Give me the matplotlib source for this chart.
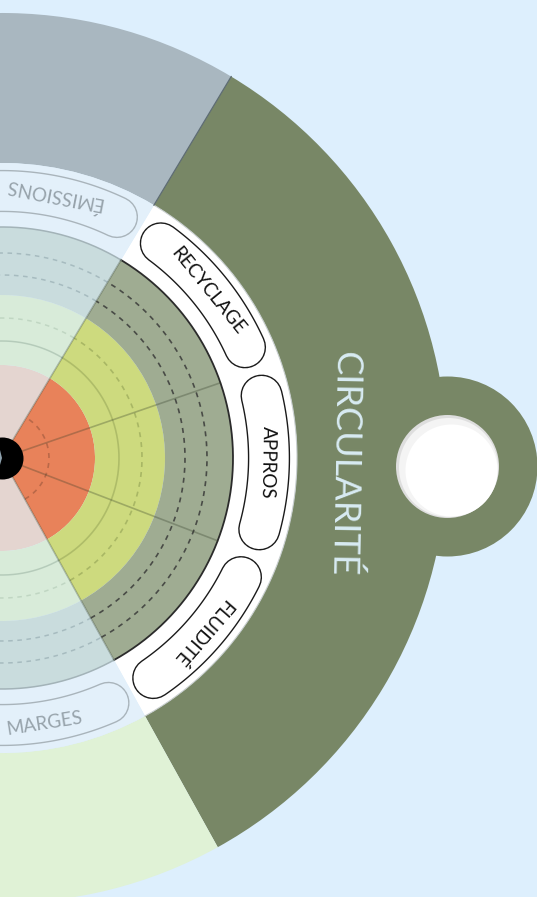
import numpy as np
import matplotlib.pyplot as plt
from matplotlib.transforms import offset_copy

# outer wedges (centre angle in degrees), 3 x 120 deg
sector_theta = [0, 120, 240]
sector_title = 'CIRCULARITÉ'
outer_colors = ['#788766', '#a9b7c0', '#e0f2d6']
ring_colors = ['#ffffff', '#e3f0fa', '#e3f0fa']

# score bands (radius levels) and colours: active sector / other sectors
band_edges = [0, 93, 163, 231]
band_active = ['#e8825a', '#cdda7e', '#9fac92']
band_other = ['#e4d5d0', '#d8ebd9', '#c9dcdd']

# sub-categories shown in the label ring
labels = ['RECYCLAGE', 'APPROS', 'FLUIDITÉ', 'ÉMISSIONS', 'MARGES']
label_theta = [40, 0, -40, 80, -80]
label_active = [True, True, True, False, False]

W, H = 537, 897
cx, cy = 2, 458
RM = 540

fig = plt.figure(figsize=(W / 100, H / 100), dpi=100, facecolor='#ddeffd')
ax = fig.add_axes([(cx - RM) / W, (H - cy - RM) / H, 2 * RM / W, 2 * RM / H],
                  projection='polar')
ax.set_ylim(0, RM)
ax.set_theta_offset(np.deg2rad(-1))
ax.axis('off')

th = np.deg2rad(sector_theta)
w120 = np.deg2rad(120)

# outer ring
ax.bar(th, 445 - 295, width=w120, bottom=295, color=outer_colors, linewidth=0, zorder=1)
# knob on the active wedge
ax.scatter([0], [445], s=(180 * 0.72) ** 2, color=outer_colors[0], linewidths=0, zorder=1)
ax.scatter([0], [445], s=(103 * 0.72) ** 2, color='#dedede', linewidths=0, zorder=2)
ax.scatter([0], [445], s=(99 * 0.72) ** 2, color='#f4f4f4', linewidths=0, zorder=3,
           transform=offset_copy(ax.transData, fig, x=1, y=-1, units='dots'))
ax.scatter([0], [445], s=(92 * 0.72) ** 2, color='#ffffff', linewidths=0, zorder=3,
           transform=offset_copy(ax.transData, fig, x=4, y=-4, units='dots'))

# label ring
ax.bar(th, 295 - band_edges[-1], width=w120, bottom=band_edges[-1], color=ring_colors,
       linewidth=0, zorder=2)
ax.plot(np.deg2rad(np.linspace(-60, 60, 200)), np.full(200, 295), color='#c9cfcf', lw=0.8, zorder=2)

# score bands
for i in range(3):
    cols = [band_active[i], band_other[i], band_other[i]]
    ax.bar(th, band_edges[i + 1] - band_edges[i], width=w120, bottom=band_edges[i],
           color=cols, linewidth=0, zorder=2)

# grid circles
t_act = np.deg2rad(np.linspace(-60, 60, 200))
t_oth = np.deg2rad(np.linspace(60, 300, 400))
dash = (0, (3, 3))
for r, ls, c, a in [(47, dash, 'k', 0.2), (117, '-', '#55662a', 0.25), (140, dash, '#55662a', 0.3),
                    (183, dash, '#333333', 0.8), (205, dash, '#333333', 0.8)]:
    ax.plot(t_act, np.full_like(t_act, r), ls=ls, color=c, alpha=a, lw=1.2, zorder=3)
for r, ls, c, a in [(117, '-', '#9fb7a6', 0.6), (140, dash, '#a9c2ad', 0.5),
                    (183, dash, '#9eb3b8', 0.8), (205, dash, '#9eb3b8', 0.8)]:
    ax.plot(t_oth, np.full_like(t_oth, r), ls=ls, color=c, alpha=a, lw=1.1, zorder=3)
ax.plot(t_act, np.full_like(t_act, band_edges[-1]), color='#2b2b2b', lw=1.3, zorder=3)
ax.plot(t_oth, np.full_like(t_oth, band_edges[-1]), color='#a3b3b8', lw=1.1, zorder=3)

# radial separators
for a in [-60, -20, 20, 60]:
    ax.plot([np.deg2rad(a)] * 2, [20, band_edges[-1]], color='#2f3a25', alpha=0.3, lw=1.2, zorder=3)
ax.plot([np.deg2rad(60)] * 2, [295, 445], color='#5d6b72', lw=0.9, zorder=3)

# centre dot
ax.scatter([0], [0], s=(42 * 0.72) ** 2, color='black', linewidths=0, zorder=4)
ax.bar(np.pi, 22, width=np.deg2rad(150), bottom=0, color='#8fa2ae', linewidth=0, zorder=5)

# label pills
for lab, t, act in zip(labels, label_theta, label_active):
    tt = np.deg2rad(np.linspace(t - 14.5, t + 14.5, 60))
    rr = np.full_like(tt, 267)
    edge = '#1a1a1a' if act else '#a9b4bb'
    fill = '#ffffff' if act else '#e3f0fa'
    ax.plot(tt, rr, lw=30.4, color=edge, solid_capstyle='round', zorder=5)
    ax.plot(tt, rr, lw=28.4, color=fill, solid_capstyle='round', zorder=5)
    rot = (t - 1 - 90) if act else (t - 1 + 90)
    ax.text(np.deg2rad(t), 267, lab, rotation=rot, rotation_mode='anchor',
            ha='center', va='center_baseline', fontsize=13.5, family=['Lato', 'DejaVu Sans'],
            color='#111111' if act else '#97a3ab', zorder=6)

ax.text(0, 345, sector_title, rotation=-91, rotation_mode='anchor', ha='center',
        va='center_baseline', fontsize=26, family=['Lato', 'DejaVu Sans'], fontweight='normal',
        color='#d8ebf3', zorder=6)

fig.savefig('out.png', dpi=100, facecolor=fig.get_facecolor())
